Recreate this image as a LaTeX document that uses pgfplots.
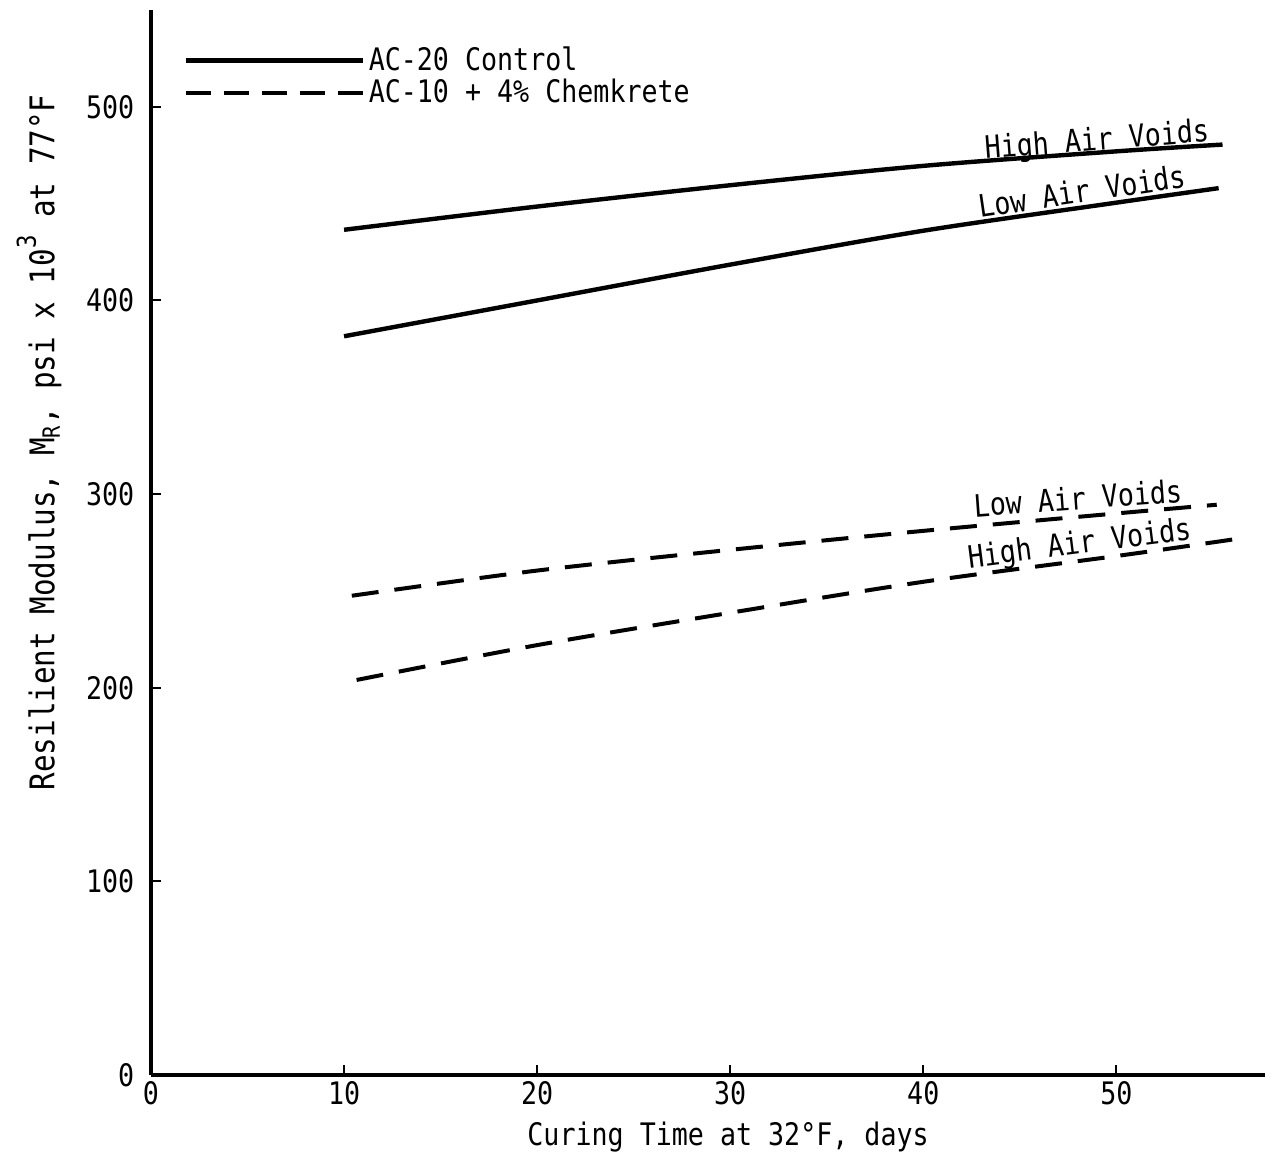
\documentclass[border=0pt]{standalone}
\usepackage{pgfplots}
\pgfplotsset{compat=1.18}
\usepackage{fontspec}
\setmainfont{DejaVu Sans Mono}[FakeStretch=0.86]

\pgfplotsset{dashlegend/.style={legend image code/.code={%
    \draw[##1, dash pattern=on 12.5pt off 6.5pt] (0pt,0pt) -- (88.5pt,0pt);}}}

\begin{document}
\fontsize{15.5}{18}\selectfont
\begin{tikzpicture}
\useasboundingbox (-75.5pt,-40.5pt) rectangle (565.5pt,537.5pt);
\begin{axis}[
    at={(0,0)}, anchor=south west,
    scale only axis,
    width=557pt, height=532.5pt,
    xmin=0, xmax=57.7,
    ymin=0, ymax=550,
    axis lines=left,
    axis line style={-, line width=2pt},
    xtick={0,10,...,50},
    ytick={0,100,...,500},
    tick align=inside,
    major tick length=5pt,
    tick style={line width=1pt, black},
    /pgf/number format/assume math mode=true,
    xticklabel style={yshift=2pt},
    yticklabel style={xshift=-3pt},
    xlabel={Curing Time at 32°F, days},
    xlabel style={at={(axis description cs:0.518,0)}, anchor=north, yshift=-18pt},
    ylabel={Resilient Modulus, M\textsubscript{R}, psi x 10\raisebox{0.55em}{\fontsize{13}{13}\selectfont 3} at 77°F},
    ylabel style={at={(axis description cs:0,0.594)}, anchor=center, yshift=56pt,
        font=\fontsize{17}{19}\selectfont},
    legend style={draw=none, fill=none, at={(axis description cs:0.0287,0.970)},
        anchor=north west, inner sep=0pt, row sep=-2pt, cells={anchor=west}},
    legend image code/.code={\draw[#1] (0pt,0pt) -- (88.5pt,0pt);},
    clip=false,
]
% AC-20 control, high air voids
\addplot[black, line width=2.2pt, smooth] coordinates {
    (10,436.5) (20,448.5) (30,459.5) (40,469.5) (50,477) (55.5,480.5)};
\addlegendentry{AC-20 Control}
% AC-10 + Chemkrete, low air voids
\addplot[black, line width=2pt, smooth, dash pattern=on 13.5pt off 8pt, dashlegend]
    coordinates {
    (10.4,247.5) (20,260.5) (30,271.2) (40,281) (50,290) (55.2,294.5)};
\addlegendentry{AC-10 + 4\% Chemkrete}
% AC-20 control, low air voids
\addplot[black, line width=2.2pt, smooth, forget plot] coordinates {
    (10,381.5) (20,400) (30,418.5) (40,436) (50,450.5) (55.3,458)};
% AC-10 + Chemkrete, high air voids
\addplot[black, line width=2pt, smooth, dash pattern=on 13.5pt off 8pt, forget plot] coordinates {
    (10.65,204) (20,222) (30,238.7) (40,254.7) (50,268) (56,276.5)};

\node[rotate=4.5] at (axis cs:49,482) {High Air Voids};
\node[rotate=8.4] at (axis cs:48.2,456.5) {Low Air Voids};
\node[rotate=4.2] at (axis cs:48,298) {Low Air Voids};
\node[rotate=7.3] at (axis cs:48.1,273.5) {High Air Voids};
\end{axis}
\end{tikzpicture}
\end{document}
